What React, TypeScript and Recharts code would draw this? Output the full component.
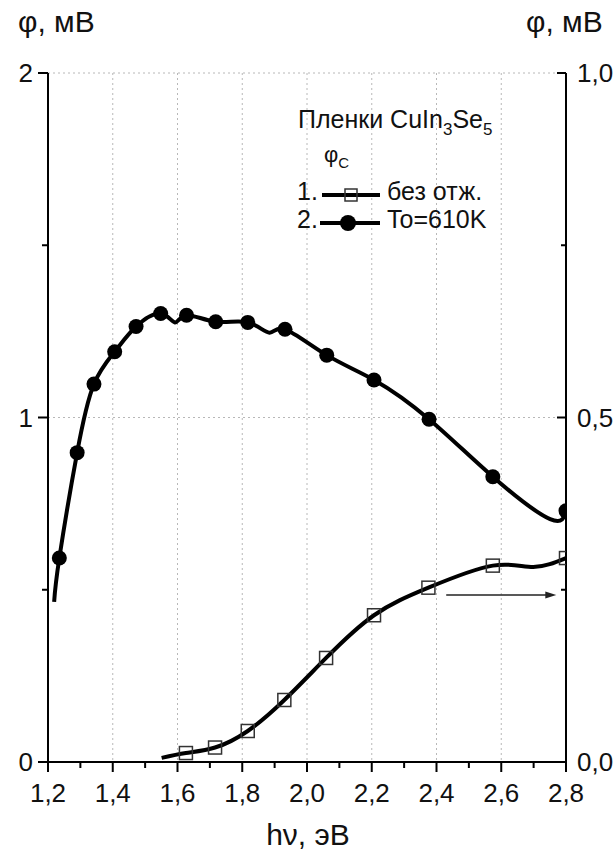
import { LineChart, Line, XAxis, YAxis, CartesianGrid, ReferenceLine } from "recharts";

const FONT = "'Liberation Sans', Arial, sans-serif";

// curve 2 (To=610K), left axis, mV
const annealedX = [1.219, 1.235, 1.29, 1.342, 1.406, 1.472, 1.548, 1.592, 1.628, 1.718, 1.817, 1.884, 1.932, 2.061, 2.207, 2.377, 2.574, 2.751, 2.8];
const annealedY = [0.465, 0.592, 0.898, 1.097, 1.191, 1.264, 1.302, 1.276, 1.297, 1.278, 1.276, 1.246, 1.256, 1.181, 1.109, 0.995, 0.828, 0.705, 0.729];
const annealedMark = [false, true, true, true, true, true, true, false, true, true, true, false, true, true, true, true, true, false, true];

// curve 1 (без отж.), right axis, mV
const asDepX = [1.551, 1.626, 1.716, 1.817, 1.93, 2.059, 2.207, 2.375, 2.574, 2.699, 2.8];
const asDepY = [0.006, 0.013, 0.021, 0.045, 0.09, 0.151, 0.213, 0.253, 0.285, 0.283, 0.296];
const asDepMark = [false, true, true, true, true, true, true, true, true, false, true];

const X_TICKS = [1.2, 1.3, 1.4, 1.5, 1.6, 1.7, 1.8, 1.9, 2.0, 2.1, 2.2, 2.3, 2.4, 2.5, 2.6, 2.7, 2.8];
const LEFT_TICKS = [0, 0.5, 1, 1.5, 2];
const RIGHT_TICKS = [0, 0.25, 0.5, 0.75, 1];
const GRID_X = [1.4, 1.6, 1.8, 2.0, 2.2, 2.4, 2.6];
const GRID_Y = [1, 2];

const TICK_FONT = 26;

const XTick = (props: any) => {
  const { x, y, payload } = props;
  const major = Math.round(payload.value * 10) % 2 === 0;
  return (
    <g>
      <line x1={x} x2={x} y1={y} y2={y + (major ? 10 : 6)} stroke="#000" strokeWidth={2} />
      {major && (
        <text x={x} y={y + 40} textAnchor="middle" fontSize={TICK_FONT} fontFamily={FONT} fill="#111">
          {payload.value.toFixed(1).replace(".", ",")}
        </text>
      )}
    </g>
  );
};

const LeftTick = (props: any) => {
  const { x, y, payload } = props;
  const major = Number.isInteger(payload.value);
  return (
    <g>
      <line x1={x - (major ? 10 : 6)} x2={x} y1={y} y2={y} stroke="#000" strokeWidth={2} />
      {major && (
        <text x={x - 15} y={y + 9} textAnchor="end" fontSize={TICK_FONT} fontFamily={FONT} fill="#111">
          {payload.value}
        </text>
      )}
    </g>
  );
};

const RightTick = (props: any) => {
  const { x, y, payload } = props;
  const major = Math.round(payload.value * 100) % 50 === 0;
  return (
    <g>
      <line x1={x - (major ? 9 : 5)} x2={x} y1={y} y2={y} stroke="#000" strokeWidth={2} />
      {major && (
        <text x={x + 11} y={y + 9} textAnchor="start" fontSize={TICK_FONT} fontFamily={FONT} fill="#111">
          {payload.value.toFixed(1).replace(".", ",")}
        </text>
      )}
    </g>
  );
};

const CircleDot = (props: any) => {
  const { cx, cy, payload, index } = props;
  if (!payload.m) return <g key={index} />;
  return <circle key={index} cx={cx} cy={cy} r={7.5} fill="#000" />;
};

const SquareDot = (props: any) => {
  const { cx, cy, payload, index } = props;
  if (!payload.m) return <g key={index} />;
  return <rect key={index} x={cx - 6.5} y={cy - 6.5} width={13} height={13} fill="none" stroke="#333" strokeWidth={1.5} />;
};

const Arrow = (props: any) => {
  const { x1, y1, x2, y2 } = props;
  return (
    <g>
      <line x1={x1} y1={y1} x2={x2 - 6} y2={y2} stroke="#222" strokeWidth={1.5} />
      <path d={`M${x2},${y2} L${x2 - 11},${y2 - 3.5} L${x2 - 11},${y2 + 3.5} Z`} fill="#222" />
    </g>
  );
};

const sub = { fontSize: 17, position: "relative" as const, top: 7 };

export default function App() {
  const annealed = annealedX.map((x, i) => ({ x, y: annealedY[i], m: annealedMark[i] }));
  const asDep = asDepX.map((x, i) => ({ x, y: asDepY[i], m: asDepMark[i] }));

  return (
    <div style={{ position: "absolute", left: 0, top: 0, width: 616, height: 852, background: "#fff", fontFamily: FONT, color: "#111" }}>
      <LineChart width={616} height={852} margin={{ top: 73, right: 0, bottom: 0, left: 0 }}>
        <CartesianGrid
          yAxisId="left"
          stroke="#b8b8b8"
          strokeDasharray="2 3"
          verticalValues={GRID_X}
          horizontalValues={GRID_Y}
        />
        <XAxis
          dataKey="x"
          type="number"
          domain={[1.2, 2.8]}
          ticks={X_TICKS}
          interval={0}
          allowDataOverflow
          height={90}
          tickSize={0}
          tickMargin={0}
          tick={<XTick />}
          axisLine={{ stroke: "#000", strokeWidth: 2 }}
        />
        <YAxis
          yAxisId="left"
          domain={[0, 2]}
          ticks={LEFT_TICKS}
          interval={0}
          width={48}
          tickSize={0}
          tickMargin={0}
          tick={<LeftTick />}
          axisLine={{ stroke: "#000", strokeWidth: 2 }}
        />
        <YAxis
          yAxisId="right"
          orientation="right"
          domain={[0, 1]}
          ticks={RIGHT_TICKS}
          interval={0}
          width={50}
          tickSize={0}
          tickMargin={0}
          tick={<RightTick />}
          axisLine={{ stroke: "#000", strokeWidth: 2 }}
        />
        <ReferenceLine
          yAxisId="right"
          segment={[{ x: 2.43, y: 0.2425 }, { x: 2.77, y: 0.2425 }]}
          shape={Arrow}
        />
        <Line
          yAxisId="right"
          data={asDep}
          dataKey="y"
          type="natural"
          stroke="#000"
          strokeWidth={4}
          dot={SquareDot}
          activeDot={false}
          isAnimationActive={false}
        />
        <Line
          yAxisId="left"
          data={annealed}
          dataKey="y"
          type="natural"
          stroke="#000"
          strokeWidth={4}
          dot={CircleDot}
          activeDot={false}
          isAnimationActive={false}
        />
      </LineChart>

      {/* axis titles */}
      <div style={{ position: "absolute", left: 18, top: 5, fontSize: 30, whiteSpace: "nowrap" }}>φ, мВ</div>
      <div style={{ position: "absolute", left: 526, top: 5, fontSize: 30, whiteSpace: "nowrap" }}>φ, мВ</div>
      <div style={{ position: "absolute", left: 0, width: 616, top: 818, fontSize: 30, textAlign: "center" }}>hν, эВ</div>

      {/* legend */}
      <div style={{ position: "absolute", left: 298, top: 105, fontSize: 25, whiteSpace: "nowrap" }}>
        Пленки CuIn<span style={sub}>3</span>Se<span style={sub}>5</span>
      </div>
      <div style={{ position: "absolute", left: 324, top: 142, fontSize: 22, whiteSpace: "nowrap" }}>
        φ<span style={{ fontSize: 15, position: "relative", top: 6 }}>C</span>
      </div>
      <div style={{ position: "absolute", left: 297, top: 177, fontSize: 25, whiteSpace: "nowrap" }}>1.</div>
      <svg style={{ position: "absolute", left: 318, top: 185 }} width={66} height={50}>
        <line x1={4} x2={62} y1={10} y2={10} stroke="#000" strokeWidth={4} />
        <rect x={27} y={4} width={12} height={12} fill="none" stroke="#333" strokeWidth={1.5} />
        <line x1={2} x2={62} y1={38} y2={38} stroke="#000" strokeWidth={4} />
        <circle cx={30} cy={38} r={8} fill="#000" />
      </svg>
      <div style={{ position: "absolute", left: 387, top: 177, fontSize: 25, whiteSpace: "nowrap" }}>без отж.</div>
      <div style={{ position: "absolute", left: 297, top: 205, fontSize: 25, whiteSpace: "nowrap" }}>2.</div>
      <div style={{ position: "absolute", left: 387, top: 205, fontSize: 25, whiteSpace: "nowrap" }}>To=610K</div>
    </div>
  );
}
